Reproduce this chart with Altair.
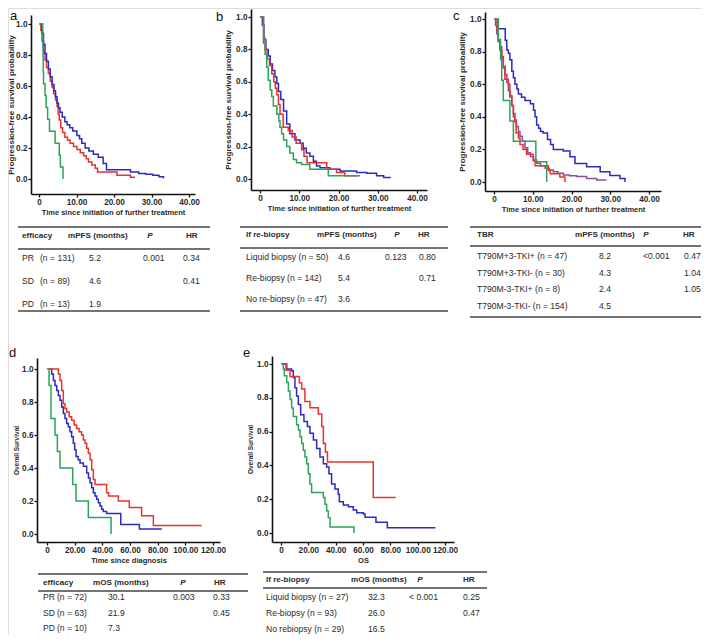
import altair as alt
import pandas as pd

# ---------------- data ----------------
# Panel a : PFS by efficacy of prior TKI
a_names = ["PR", "SD", "PD"]
a_pr_t = [0.0, 0.5, 0.8, 1.2, 1.6, 2.0, 2.5, 3.0, 3.5, 3.9, 4.4, 4.8, 5.1, 5.4, 5.8, 6.3, 6.9, 7.6, 8.3, 9.2,
          10.1, 11.0, 11.9, 12.6, 13.2, 14.1, 15.0, 15.6, 20.8, 24.4, 25.6]
a_pr_s = [1.0, 0.96, 0.89, 0.81, 0.77, 0.72, 0.68, 0.63, 0.59, 0.55, 0.51, 0.47, 0.42, 0.38, 0.33, 0.30, 0.27,
          0.25, 0.23, 0.21, 0.19, 0.17, 0.15, 0.13, 0.11, 0.09, 0.07, 0.045, 0.025, 0.012, 0.012]
a_sd_t = [0.3, 0.8, 1.2, 1.6, 2.0, 2.5, 3.0, 3.5, 4.0, 4.4, 4.8, 5.2, 5.6, 6.2, 6.9, 7.5, 8.2, 9.0, 10.1, 10.8,
          11.4, 12.3, 13.3, 14.5, 15.8, 17.1, 18.0, 24.4, 26.6, 28.5, 30.3, 32.0, 33.2]
a_sd_s = [1.0, 0.94, 0.87, 0.81, 0.76, 0.71, 0.66, 0.61, 0.57, 0.53, 0.49, 0.46, 0.43, 0.40, 0.37, 0.35, 0.33,
          0.31, 0.28, 0.26, 0.23, 0.20, 0.18, 0.16, 0.14, 0.10, 0.06, 0.045, 0.035, 0.03, 0.025, 0.015, 0.005]
a_pd_t = [0.3, 1.0, 1.05, 1.1, 1.15, 1.2, 1.6, 1.9, 2.3, 2.8, 4.3, 5.4, 5.7, 6.4]
a_pd_s = [1.0, 0.923, 0.846, 0.769, 0.692, 0.615, 0.538, 0.462, 0.385, 0.308, 0.231, 0.154, 0.077, 0.0]

# Panel b : PFS by re-biopsy
b_names = ["Re-biopsy", "Liquid biopsy", "No re-biopsy"]
b_re_t = [0.0, 0.6, 1.0, 1.5, 2.1, 2.6, 3.2, 3.8, 4.3, 4.7, 5.3, 6.0, 6.8, 7.6, 8.9, 10.2, 11.0, 11.8, 12.7,
          13.6, 14.4, 15.3, 17.8, 20.4, 24.6, 27.2, 29.7, 31.5, 33.1]
b_re_s = [1.0, 0.95, 0.86, 0.80, 0.76, 0.71, 0.67, 0.63, 0.59, 0.54, 0.49, 0.42, 0.34, 0.28, 0.24, 0.22, 0.19,
          0.16, 0.14, 0.11, 0.08, 0.07, 0.06, 0.05, 0.04, 0.035, 0.02, 0.01, 0.005]
b_lq_t = [0.0, 0.9, 1.3, 1.8, 2.4, 3.0, 3.5, 3.9, 4.3, 4.7, 5.1, 5.9, 7.2, 8.2, 9.2, 10.6, 11.2, 12.0, 17.0,
          19.5, 21.6, 24.8]
b_lq_s = [1.0, 0.84, 0.80, 0.74, 0.70, 0.65, 0.60, 0.56, 0.52, 0.46, 0.40, 0.32, 0.30, 0.26, 0.22, 0.18, 0.14,
          0.10, 0.06, 0.04, 0.02, 0.02]
b_no_t = [0.0, 0.9, 1.3, 1.7, 2.1, 2.6, 3.0, 3.4, 4.3, 4.8, 5.1, 5.5, 6.0, 6.8, 7.6, 8.5, 9.3, 10.6, 12.7,
          17.4, 25.5]
b_no_s = [1.0, 0.87, 0.77, 0.69, 0.61, 0.55, 0.51, 0.45, 0.40, 0.36, 0.32, 0.28, 0.24, 0.20, 0.16, 0.12, 0.10,
          0.09, 0.06, 0.02, 0.02]

# Panel c : PFS by T790M status and 3rd-generation TKI
c_names = ["T790M+3-TKI+", "T790M+3-TKI-", "T790M-3-TKI+", "T790M-3-TKI-"]
c_pp_t = [0.3, 1.1, 2.9, 3.3, 3.7, 4.1, 4.6, 5.0, 5.4, 5.9, 6.3, 7.1, 8.0, 9.4, 10.2, 10.6, 11.0, 11.5, 12.0,
          12.7, 13.8, 14.6, 15.3, 17.9, 19.6, 20.9, 23.9, 27.4, 29.9, 32.5, 33.8]
c_pp_s = [0.98, 0.94, 0.87, 0.81, 0.79, 0.75, 0.68, 0.64, 0.60, 0.57, 0.54, 0.52, 0.50, 0.48, 0.44, 0.40, 0.35,
          0.33, 0.31, 0.30, 0.26, 0.23, 0.20, 0.19, 0.155, 0.114, 0.094, 0.063, 0.04, 0.022, 0.0]
c_pm_t = [0.3, 0.8, 1.1, 1.5, 2.0, 2.4, 2.8, 3.7, 4.1, 4.6, 5.0, 5.3, 5.7, 6.3, 6.7, 7.5, 8.4, 10.1, 10.6,
          14.0, 14.5, 17.0, 18.3]
c_pm_s = [1.0, 0.93, 0.87, 0.83, 0.77, 0.70, 0.63, 0.60, 0.53, 0.47, 0.40, 0.37, 0.30, 0.27, 0.23, 0.20, 0.17,
          0.13, 0.10, 0.07, 0.05, 0.03, 0.0]
c_mp_t = [0.3, 1.1, 1.7, 2.0, 2.4, 4.1, 5.0, 10.8, 13.6]
c_mp_s = [1.0, 0.875, 0.75, 0.625, 0.5, 0.375, 0.25, 0.125, 0.0]
c_mm_t = [0.0, 0.4, 0.7, 1.1, 1.5, 2.0, 2.4, 2.9, 3.3, 3.7, 4.1, 4.6, 5.0, 5.4, 5.8, 6.3, 6.7, 7.3, 8.0, 8.7,
          9.4, 10.2, 11.0, 12.0, 13.2, 14.3, 15.3, 16.5, 17.9, 19.5, 21.3, 23.9, 26.5, 28.8]
c_mm_s = [1.0, 0.96, 0.91, 0.86, 0.81, 0.76, 0.71, 0.66, 0.61, 0.56, 0.52, 0.47, 0.42, 0.38, 0.34, 0.31, 0.28,
          0.25, 0.21, 0.18, 0.156, 0.135, 0.115, 0.10, 0.085, 0.073, 0.063, 0.053, 0.043, 0.038, 0.033, 0.022,
          0.012, 0.008]

# Panel d : OS by efficacy
d_names = ["PR", "SD", "PD"]
d_pr_t = [0.0, 8.2, 9.4, 10.6, 11.8, 13.0, 14.2, 16.0, 17.8, 19.6, 21.4, 23.2, 25.0, 26.3, 27.5, 28.7, 29.9,
          31.1, 32.3, 33.5, 34.7, 43.1, 44.5, 51.6, 59.5, 68.4, 76.9, 111.8]
d_pr_s = [1.0, 0.97, 0.93, 0.87, 0.79, 0.76, 0.74, 0.71, 0.69, 0.66, 0.64, 0.62, 0.60, 0.57, 0.55, 0.52, 0.49,
          0.45, 0.39, 0.33, 0.30, 0.25, 0.23, 0.20, 0.16, 0.11, 0.052, 0.052]
d_sd_t = [2.0, 3.4, 4.6, 5.8, 7.0, 8.2, 9.4, 10.6, 11.8, 13.0, 14.2, 15.4, 16.6, 17.8, 19.0, 20.0, 21.0, 22.5,
          23.9, 26.3, 28.7, 30.0, 31.1, 32.3, 33.5, 34.7, 35.9, 37.1, 38.3, 39.5, 40.7, 43.1, 53.3, 66.8, 83.0]
d_sd_s = [1.0, 0.97, 0.93, 0.90, 0.87, 0.84, 0.81, 0.77, 0.73, 0.70, 0.67, 0.65, 0.62, 0.59, 0.55, 0.51, 0.47,
          0.45, 0.43, 0.41, 0.37, 0.34, 0.31, 0.28, 0.25, 0.23, 0.21, 0.19, 0.17, 0.15, 0.136, 0.125, 0.058,
          0.030, 0.030]
d_pd_t = [1.0, 1.5, 2.9, 5.8, 7.5, 9.4, 18.6, 21.0, 29.9, 46.3]
d_pd_s = [1.0, 0.9, 0.7, 0.6, 0.5, 0.4, 0.3, 0.2, 0.1, 0.0]

# Panel e : OS by re-biopsy
e_names = ["Re-biopsy", "Liquid biopsy", "No rebiopsy"]
e_re_t = [0.5, 4.2, 7.8, 9.0, 10.2, 11.4, 12.7, 14.4, 16.8, 19.3, 21.2, 23.7, 26.1, 28.5, 31.0, 33.4, 35.1,
          37.0, 39.5, 41.9, 42.7, 45.6, 49.3, 52.9, 55.4, 60.3, 61.5, 69.5, 77.8, 113.0]
e_re_s = [1.0, 0.97, 0.96, 0.92, 0.86, 0.81, 0.76, 0.70, 0.66, 0.63, 0.59, 0.55, 0.50, 0.45, 0.41, 0.39, 0.35,
          0.29, 0.26, 0.23, 0.185, 0.165, 0.155, 0.136, 0.12, 0.112, 0.093, 0.063, 0.031, 0.031]
e_lq_t = [0.5, 3.7, 6.6, 13.4, 15.1, 17.5, 21.2, 27.3, 29.8, 31.0, 32.5, 34.0, 67.5, 83.9]
e_lq_s = [1.0, 0.963, 0.926, 0.889, 0.852, 0.778, 0.741, 0.704, 0.63, 0.53, 0.48, 0.42, 0.21, 0.21]
e_no_t = [0.5, 1.7, 2.4, 4.2, 5.4, 6.6, 7.8, 9.0, 11.4, 12.7, 13.9, 15.1, 16.3, 17.5, 18.8, 20.0, 21.2, 22.4,
          31.0, 32.2, 33.4, 34.6, 35.9, 53.4]
e_no_s = [1.0, 0.97, 0.93, 0.89, 0.84, 0.79, 0.74, 0.69, 0.64, 0.61, 0.57, 0.53, 0.49, 0.45, 0.41, 0.35, 0.29,
          0.24, 0.21, 0.17, 0.13, 0.09, 0.035, 0.0]

# axis ticks
pfs_xticks = [0, 10, 20, 30, 40]
os_xticks = [0, 20, 40, 60, 80, 100, 120]
y_ticks = [0.0, 0.2, 0.4, 0.6, 0.8, 1.0]

# tables
ta_head = ["efficacy", "mPFS (months)", "P", "HR"]
ta_grp = ["PR", "SD", "PD"]
ta_n = ["(n = 131)", "(n = 89)", "(n = 13)"]
ta_med = ["5.2", "4.6", "1.9"]
ta_p = ["0.001", "", ""]
ta_hr = ["0.34", "0.41", ""]

tb_head = ["If re-biopsy", "mPFS (months)", "P", "HR"]
tb_grp = ["Liquid biopsy (n = 50)", "Re-biopsy (n = 142)", "No re-biopsy (n = 47)"]
tb_med = ["4.6", "5.4", "3.6"]
tb_p = ["0.123", "", ""]
tb_hr = ["0.80", "0.71", ""]

tc_head = ["TBR", "mPFS (months)", "P", "HR"]
tc_grp = ["T790M+3-TKI+ (n = 47)", "T790M+3-TKI- (n = 30)", "T790M-3-TKI+ (n = 8)", "T790M-3-TKI- (n = 154)"]
tc_med = ["8.2", "4.3", "2.4", "4.5"]
tc_p = ["<0.001", "", "", ""]
tc_hr = ["0.47", "1.04", "1.05", ""]

td_head = ["efficacy", "mOS (months)", "P", "HR"]
td_grp = ["PR", "SD", "PD"]
td_n = ["(n = 72)", "(n = 63)", "(n = 10)"]
td_med = ["30.1", "21.9", "7.3"]
td_p = ["0.003", "", ""]
td_hr = ["0.33", "0.45", ""]

te_head = ["If re-biopsy", "mOS (months)", "P", "HR"]
te_grp = ["Liquid biopsy  (n = 27)", "Re-biopsy (n = 93)", "No rebiopsy (n = 29)"]
te_med = ["32.3", "26.0", "16.5"]
te_p = ["< 0.001", "", ""]
te_hr = ["0.25", "0.47", ""]

# ---------------- style / layout ----------------
RED, BLUE, GREEN, PURPLE = "#e8322c", "#2b2bbf", "#2aa35c", "#8a4c9c"
FONT = "Liberation Sans"
TXT = "#2a2a2a"
W, H = 693, 627
M = 8  # page margin: picture coordinates -> chart coordinates


def km_panel(curves, names, colors, frame, xticks, xtitle, ytitle, ytsize, xtsize, ytpad=2):
    XL, XR, X0, XM, YT, YB, Y1, Y0 = frame
    kx = (XM - X0) / xticks[-1]
    ky = (Y0 - Y1)
    xdom = [(XL - X0) / kx, (XR - X0) / kx]
    ydom = [(Y0 - YB) / ky, (Y0 - YT) / ky]
    rows = []
    for name, (ts, ss) in zip(names, curves):
        for t, s in zip(ts, ss):
            rows.append({"t": t, "s": s, "g": name})
    df = pd.DataFrame(rows)
    common = dict(domainColor="#111", tickColor="#111", domainWidth=1.6, tickWidth=1.3, tickSize=3,
                  labelFont=FONT, labelFontWeight="bold", labelFontSize=8.2, labelColor=TXT,
                  titleFont=FONT, titleFontWeight="bold", titleColor=TXT, grid=False)
    xaxis = alt.Axis(orient="bottom", offset=(YB - M) - H, values=xticks,
                     labelExpr="datum.value == 0 ? '0' : format(datum.value, '.2f')",
                     labelPadding=1, title=xtitle, titleFontSize=xtsize, titlePadding=3,
                     labelFlush=False, labelOverlap=False, **common)
    yaxis = alt.Axis(orient="left", offset=-(XL - M), values=y_ticks, format=".1f",
                     labelPadding=1, title=ytitle, titleFontSize=ytsize, titlePadding=ytpad, **common)
    return alt.Chart(df).mark_line(interpolate="step-after", strokeWidth=1.5).encode(
        x=alt.X("t:Q", scale=alt.Scale(domain=xdom, range=[XL - M, XR - M], nice=False, zero=False), axis=xaxis),
        y=alt.Y("s:Q", scale=alt.Scale(domain=ydom, range=[YB - M, YT - M], nice=False, zero=False), axis=yaxis),
        color=alt.Color("g:N", scale=alt.Scale(domain=names, range=colors), legend=None),
    )


def letter(ch, x, y):
    return alt.Chart(pd.DataFrame({"k": [0]})).mark_text(
        text=ch, align="left", baseline="alphabetic", font=FONT, fontSize=13, color="#111"
    ).encode(x=alt.value(x - M), y=alt.value(y - M))


def hline(x1, x2, y):
    return alt.Chart(pd.DataFrame({"k": [0]})).mark_rule(color="#444", strokeWidth=1.4).encode(
        x=alt.value(x1 - M), x2=alt.value(x2 - M), y=alt.value(y - M))


def head_cell(txt, x, y, align="left", style="normal"):
    return alt.Chart(pd.DataFrame({"k": [0]})).mark_text(
        text=txt, align=align, baseline="middle", font=FONT, fontSize=8.1, fontWeight="bold",
        fontStyle=style, color=TXT).encode(x=alt.value(x - M), y=alt.value(y - M))


def col(texts, x, y_first, y_last, align="left"):
    n = len(texts)
    df = pd.DataFrame({"r": list(range(n)), "txt": texts})
    return alt.Chart(df).mark_text(align=align, baseline="middle", font=FONT, fontSize=8.6, color=TXT).encode(
        x=alt.value(x - M),
        y=alt.Y("r:Q", scale=alt.Scale(domain=[0, n - 1], range=[y_first - M, y_last - M], nice=False, zero=False),
                axis=None),
        text="txt:N",
    )


def table(head, head_x, head_y, head_align, cols, rows_y, rule_x, rule_y):
    layers = [hline(rule_x[0], rule_x[1], yy) for yy in rule_y]
    for h, hx, ha in zip(head, head_x, head_align):
        layers.append(head_cell(h, hx, head_y, ha, "italic" if h == "P" else "normal"))
    for texts, x, align in cols:
        layers.append(col(texts, x, rows_y[0], rows_y[1], align))
    return layers


PFS_T = "Time since initiation of further treatment"
PFS_Y = "Progression-free survival probability"

pa = km_panel([(a_pr_t, a_pr_s), (a_sd_t, a_sd_s), (a_pd_t, a_pd_s)], a_names, [RED, BLUE, GREEN],
              (31, 195, 39, 189, 15, 194, 24, 179), pfs_xticks, PFS_T, PFS_Y, 8.0, 7.5, ytpad=0)
pb = km_panel([(b_re_t, b_re_s), (b_lq_t, b_lq_s), (b_no_t, b_no_s)], b_names, [BLUE, RED, GREEN],
              (251, 427, 260, 417, 9, 190, 17, 179), pfs_xticks, PFS_T, PFS_Y, 8.0, 7.5, ytpad=3)
pc = km_panel([(c_pp_t, c_pp_s), (c_mm_t, c_mm_s), (c_pm_t, c_pm_s), (c_mp_t, c_mp_s)],
              [c_names[0], c_names[3], c_names[1], c_names[2]], [BLUE, PURPLE, RED, GREEN],
              (485, 661, 494, 649, 12, 191, 19, 182), pfs_xticks, PFS_T, PFS_Y, 8.0, 7.5, ytpad=3)
pd_ = km_panel([(d_sd_t, d_sd_s), (d_pr_t, d_pr_s), (d_pd_t, d_pd_s)], [d_names[1], d_names[0], d_names[2]],
               [BLUE, RED, GREEN], (37, 220, 47, 213, 358, 542, 369, 534), os_xticks, "Time since diagnosis",
               "Overall Survival", 6.5, 7.5, ytpad=2)
pe = km_panel([(e_re_t, e_re_s), (e_lq_t, e_lq_s), (e_no_t, e_no_s)], e_names, [BLUE, RED, GREEN],
              (272, 454, 281, 445, 356, 542, 364, 533), os_xticks, "OS", "Overall Survival", 6.5, 7.5, ytpad=3)

layers = [pa, pb, pc, pd_, pe,
          letter("a", 10, 20), letter("b", 216, 21), letter("c", 453, 20), letter("d", 9, 357), letter("e", 243, 357)]

layers += table(ta_head, [22, 68, 150, 186], 236, ["left", "left", "center", "left"],
                [(ta_grp, 22, "left"), (ta_n, 40, "left"), (ta_med, 89, "left"), (ta_p, 143, "left"),
                 (ta_hr, 183, "left")], (258, 304), (18, 210), (227, 249, 311))
layers += table(tb_head, [246, 317, 397, 418], 235, ["left", "left", "center", "left"],
                [(tb_grp, 246, "left"), (tb_med, 338, "left"), (tb_p, 385, "left"), (tb_hr, 419, "left")],
                (257, 299), (240, 448), (227, 248, 311))
layers += table(tc_head, [477, 575, 646, 683], 235, ["left", "left", "center", "left"],
                [(tc_grp, 477, "left"), (tc_med, 605, "center"), (tc_p, 643, "left"), (tc_hr, 684, "left")],
                (256, 306), (470, 701), (227, 246, 317))
layers += table(td_head, [43, 93, 183, 214], 583, ["left", "left", "center", "left"],
                [(td_grp, 43, "left"), (td_n, 57, "left"), (td_med, 108, "left"), (td_p, 173, "left"),
                 (td_hr, 213, "left")], (597, 628), (38, 248), (574, 591, 637))
layers += table(te_head, [266, 351, 420, 463], 580, ["left", "left", "center", "left"],
                [(te_grp, 266, "left"), (te_med, 368, "left"), (te_p, 409, "left"), (te_hr, 463, "left")],
                (597, 629), (263, 487), (572, 588, 637))

chart = alt.layer(*layers).resolve_scale(
    x="independent", y="independent", color="independent"
).resolve_axis(x="independent", y="independent").properties(
    width=W, height=H, autosize=alt.AutoSizeParams(type="none"), padding=0
).configure_view(stroke="transparent").configure(background="white")

chart.save("out.html", embed_options={"renderer": "svg", "actions": False})
